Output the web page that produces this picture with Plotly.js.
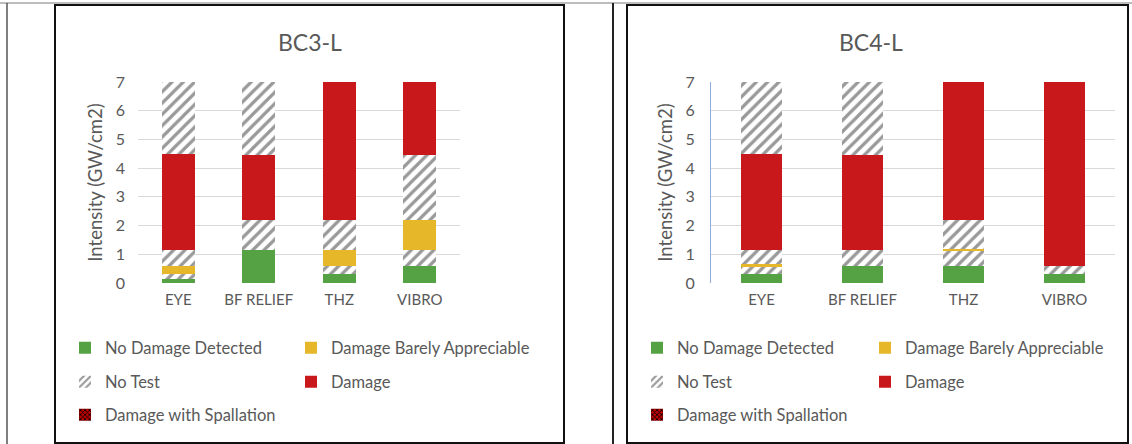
<!DOCTYPE html>
<html>
<head>
<meta charset="utf-8">
<script src="https://cdn.plot.ly/plotly-3.0.1.min.js"></script>
<style>html,body{margin:0;padding:0;background:#fff;}#chart{width:1132px;height:444px;}</style>
</head>
<body>
<div id="chart"></div>
<script>
const categories = ['EYE', 'BF RELIEF', 'THZ', 'VIBRO'];
const yTicks = [0, 1, 2, 3, 4, 5, 6, 7];

// BC3-L: stacked segment heights (GW/cm2), bottom layer first; one value per category
const bc3Layer1 = [0.15, 1.15, 0.3, 0.6];
const bc3Layer2 = [0.15, 1.05, 0.3, 0.55];
const bc3Layer3 = [0.3, 2.25, 0.55, 1.05];
const bc3Layer4 = [0.55, 2.55, 1.05, 2.25];
const bc3Layer5 = [3.35, 0, 4.8, 2.55];
const bc3Layer6 = [2.5, 0, 0, 0];
// status codes: G = no damage, Y = barely appreciable, N = no test, R = damage
const bc3Status1 = ['G', 'G', 'G', 'G'];
const bc3Status2 = ['N', 'N', 'N', 'N'];
const bc3Status3 = ['Y', 'R', 'Y', 'Y'];
const bc3Status4 = ['N', 'N', 'N', 'N'];
const bc3Status5 = ['R', 'R', 'R', 'R'];
const bc3Status6 = ['N', 'N', 'N', 'N'];

// BC4-L
const bc4Layer1 = [0.3, 0.6, 0.6, 0.3];
const bc4Layer2 = [0.25, 0.55, 0.5, 0.3];
const bc4Layer3 = [0.1, 3.3, 0.1, 6.4];
const bc4Layer4 = [0.5, 2.55, 1.0, 0];
const bc4Layer5 = [3.35, 0, 4.8, 0];
const bc4Layer6 = [2.5, 0, 0, 0];
const bc4Status1 = ['G', 'G', 'G', 'G'];
const bc4Status2 = ['N', 'N', 'N', 'N'];
const bc4Status3 = ['Y', 'R', 'Y', 'R'];
const bc4Status4 = ['N', 'N', 'N', 'N'];
const bc4Status5 = ['R', 'R', 'R', 'R'];
const bc4Status6 = ['N', 'N', 'N', 'N'];

const legendNames = ['No Damage Detected', 'Damage Barely Appreciable', 'No Test', 'Damage', 'Damage with Spallation'];
const legendCodes = ['G', 'Y', 'N', 'R', 'S'];
const chartTitles = ['BC3-L', 'BC4-L'];

const W = 1132, H = 444;
const TXT = '#595959';
const FONT = 'Lato, "Liberation Sans", sans-serif';
const STYLE = {
  G: {color: '#55A245', shape: ''},
  Y: {color: '#E6B829', shape: ''},
  N: {color: '#ffffff', shape: '/', fg: '#999999', bg: '#ffffff'},
  R: {color: '#C8181C', shape: ''},
  S: {color: '#C00000', shape: 'x', fg: '#000000', bg: '#C00000'}
};
function marker(c, size, solidity) {
  const s = STYLE[c];
  const m = {color: s.color, line: {width: 0}};
  if (s.shape) {
    m.pattern = {shape: s.shape, fgcolor: s.fg, bgcolor: s.bg, size: size, solidity: solidity, fillmode: 'replace'};
  }
  return m;
}

const charts = [
  {ax: '', layers: [bc3Layer1, bc3Layer2, bc3Layer3, bc3Layer4, bc3Layer5, bc3Layer6],
   status: [bc3Status1, bc3Status2, bc3Status3, bc3Status4, bc3Status5, bc3Status6]},
  {ax: '2', layers: [bc4Layer1, bc4Layer2, bc4Layer3, bc4Layer4, bc4Layer5, bc4Layer6],
   status: [bc4Status1, bc4Status2, bc4Status3, bc4Status4, bc4Status5, bc4Status6]}
];

const traces = [];
charts.forEach(ch => {
  ch.layers.forEach((vals, i) => {
    ['G', 'Y', 'N', 'R'].forEach(code => {
      const ys = vals.map((v, j) => ch.status[i][j] === code ? v : 0);
      if (!ys.some(v => v > 0)) return;
      traces.push({
        type: 'bar', x: categories, y: ys,
        xaxis: 'x' + ch.ax, yaxis: 'y' + ch.ax,
        marker: marker(code, 8, 0.4), showlegend: false, hoverinfo: 'skip'
      });
    });
  });
});

// legend grid: entry index -> [column, row]
const legendCell = [[0, 0], [1, 0], [0, 1], [1, 1], [0, 2]];
const colText = [[105, 331], [677, 905]];
const rowY = [348, 382, 415];
const layoutLegends = {};
let li = 1;
charts.forEach((ch, ci) => {
  legendNames.forEach((name, k) => {
    const key = li === 1 ? 'legend' : 'legend' + li;
    const c = legendCodes[k];
    const cell = legendCell[k];
    traces.push({
      type: 'bar', x: [null], y: [null], name: name,
      xaxis: 'x' + ch.ax, yaxis: 'y' + ch.ax, legend: key,
      marker: marker(c, c === 'S' ? 4 : 6, 0.45)
    });
    layoutLegends[key] = {
      orientation: 'v', x: (colText[ci][cell[0]] - 40) / W, xanchor: 'left',
      y: 1 - rowY[cell[1]] / H, yanchor: 'middle',
      font: {family: FONT, size: 16.5, color: TXT},
      bgcolor: 'rgba(0,0,0,0)', borderwidth: 0
    };
    li++;
  });
});

const yDom = [1 - 283 / H, 1 - 82 / H];
const yBase = {
  range: [0, 7], tickvals: yTicks, showgrid: true, gridcolor: '#D9D9D9', gridwidth: 1,
  zeroline: false, ticks: '', ticklabelstandoff: 12,
  tickfont: {family: FONT, size: 16, color: TXT}, domain: yDom, fixedrange: true,
  title: {text: 'Intensity (GW/cm2)', font: {family: FONT, size: 18.5, color: TXT}, standoff: 8}
};
const xBase = {
  type: 'category', showgrid: false, zeroline: false, ticks: '', showline: false,
  tickfont: {family: FONT, size: 15, color: TXT}, ticklabelstandoff: 6, fixedrange: true
};

const layout = Object.assign({
  width: W, height: H, margin: {l: 0, r: 0, t: 0, b: 0},
  paper_bgcolor: '#ffffff', plot_bgcolor: 'rgba(0,0,0,0)',
  barmode: 'stack', bargap: 0.59, showlegend: true,
  font: {family: FONT, color: TXT},
  xaxis: Object.assign({}, xBase, {domain: [138 / W, 460 / W], anchor: 'y'}),
  yaxis: Object.assign({}, yBase, {anchor: 'x', showline: false}),
  xaxis2: Object.assign({}, xBase, {domain: [711 / W, 1115 / W], anchor: 'y2'}),
  yaxis2: Object.assign({}, yBase, {anchor: 'x2', showline: true, linecolor: '#8FAADC', linewidth: 1}),
  annotations: [
    {text: chartTitles[0], x: 310 / W, y: 1 - 42 / H, xref: 'paper', yref: 'paper', showarrow: false,
     xanchor: 'center', yanchor: 'middle', font: {family: FONT, size: 23, color: TXT}},
    {text: chartTitles[1], x: 871 / W, y: 1 - 42 / H, xref: 'paper', yref: 'paper', showarrow: false,
     xanchor: 'center', yanchor: 'middle', font: {family: FONT, size: 23, color: TXT}}
  ],
  shapes: [
    {type: 'line', xref: 'paper', yref: 'paper', x0: 0, x1: 1, y0: 1 - 3 / H, y1: 1 - 3 / H, line: {color: '#BDBDBD', width: 2}},
    {type: 'line', xref: 'paper', yref: 'paper', x0: 7 / W, x1: 7 / W, y0: 0, y1: 1 - 3 / H, line: {color: '#555555', width: 1.5}},
    {type: 'rect', xref: 'paper', yref: 'paper', x0: 55 / W, x1: 564 / W, y0: 1 - 443 / H, y1: 1 - 5 / H, line: {color: '#111111', width: 2}},
    {type: 'line', xref: 'paper', yref: 'paper', x0: 613 / W, x1: 613 / W, y0: 0, y1: 1 - 3 / H, line: {color: '#222222', width: 2}},
    {type: 'rect', xref: 'paper', yref: 'paper', x0: 627 / W, x1: 1128 / W, y0: 1 - 443 / H, y1: 1 - 5 / H, line: {color: '#111111', width: 2}}
  ]
}, layoutLegends);

Plotly.newPlot('chart', traces, layout, {staticPlot: true, displayModeBar: false});
</script>
</body>
</html>
